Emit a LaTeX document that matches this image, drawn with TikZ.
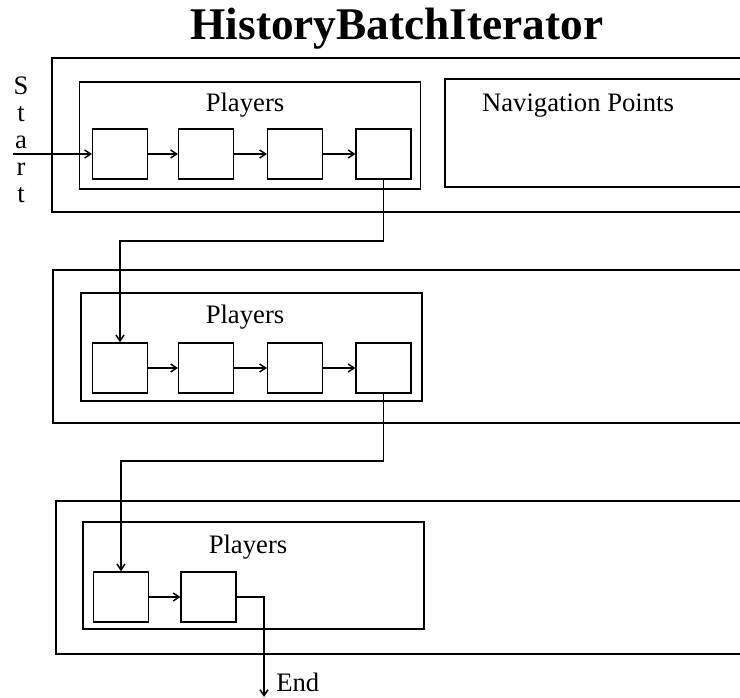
\documentclass[tikz,border=0pt]{standalone}
\usepackage{fontspec}
\setmainfont{Liberation Serif}
\usetikzlibrary{arrows.meta}
\begin{document}
\begin{tikzpicture}[x=0.75pt,y=-0.75pt,
  frame/.style={draw,line width=1.1pt},
  cell/.style={draw,line width=1.1pt,minimum width=41pt,minimum height=37.5pt,inner sep=0pt},
  lbl/.style={font=\fontsize{20pt}{24pt}\selectfont,inner sep=0pt},
  arr/.style={line width=1.1pt,-{Straight Barb[length=4.5pt,width=6pt]}},
  conn/.style={line width=1.1pt}]
\useasboundingbox (0,0) rectangle (740,698);
\clip (0,0) rectangle (740,698);
% title
\node[font=\fontsize{34pt}{40pt}\selectfont\bfseries,anchor=base,inner sep=0pt] (title) at (397,40) {HistoryBatchIterator};
% outer frames
\draw[frame] (760,58) -- (52,58) -- (52,212) -- (760,212);
\draw[frame] (760,270) -- (53,270) -- (53,423) -- (760,423);
\draw[frame] (760,501) -- (56,501) -- (56,654) -- (760,654);
% players boxes
\node[frame,minimum width=256pt,minimum height=80.25pt,inner sep=0pt] (p1) at (250,135.5) {};
\node[frame,minimum width=255.75pt,minimum height=81pt,inner sep=0pt] (p2) at (251.5,347) {};
\node[frame,minimum width=255.75pt,minimum height=80.25pt,inner sep=0pt] (p3) at (253.5,575.5) {};
\node[lbl,anchor=base] (p1t) at (245,112) {Players};
\node[lbl,anchor=base] (p2t) at (245,324) {Players};
\node[lbl,anchor=base] (p3t) at (248,554) {Players};
% navigation points
\draw[frame] (760,79) -- (445,79) -- (445,187) -- (760,187);
\node[lbl,anchor=base] (navt) at (578,112) {Navigation Points};
% row 1 cells
\node[cell] (r1a) at (120,154) {};
\node[cell] (r1b) at (206,154) {};
\node[cell] (r1c) at (295,154) {};
\node[cell] (r1d) at (383.5,154) {};
% row 2 cells
\node[cell] (r2a) at (120,368) {};
\node[cell] (r2b) at (206,368) {};
\node[cell] (r2c) at (295,368) {};
\node[cell] (r2d) at (383.5,368) {};
% row 3 cells
\node[cell] (r3a) at (121,597) {};
\node[cell] (r3b) at (208.5,597) {};
% start
\coordinate (st) at (13,154);
\node[lbl,anchor=base] (s1) at (21,95) {S};
\node[lbl,anchor=base] (s2) at (21,122) {t};
\node[lbl,anchor=base] (s3) at (21,149) {a};
\node[lbl,anchor=base] (s4) at (21,176) {r};
\node[lbl,anchor=base] (s5) at (21,203) {t};
\draw[arr] (st) -- (r1a.west);
\draw[arr] (r1a) -- (r1b);
\draw[arr] (r1b) -- (r1c);
\draw[arr] (r1c) -- (r1d);
\draw[arr] (r2a) -- (r2b);
\draw[arr] (r2b) -- (r2c);
\draw[arr] (r2c) -- (r2d);
\draw[arr] (r3a) -- (r3b);
% vertical connectors
\coordinate (k1) at (250,241);
\coordinate (k2) at (250,461);
\draw[arr] (r1d.south) |- (k1) -| (r2a.north);
\draw[arr] (r2d.south) |- (k2) -| (r3a.north);
\coordinate (k3) at (264,597);
\coordinate (endpt) at (264,697);
\draw[arr] (r3b.east) -- (k3) -- (endpt);
\node[lbl,anchor=base west] (endt) at (276,692) {End};
\end{tikzpicture}
\end{document}
